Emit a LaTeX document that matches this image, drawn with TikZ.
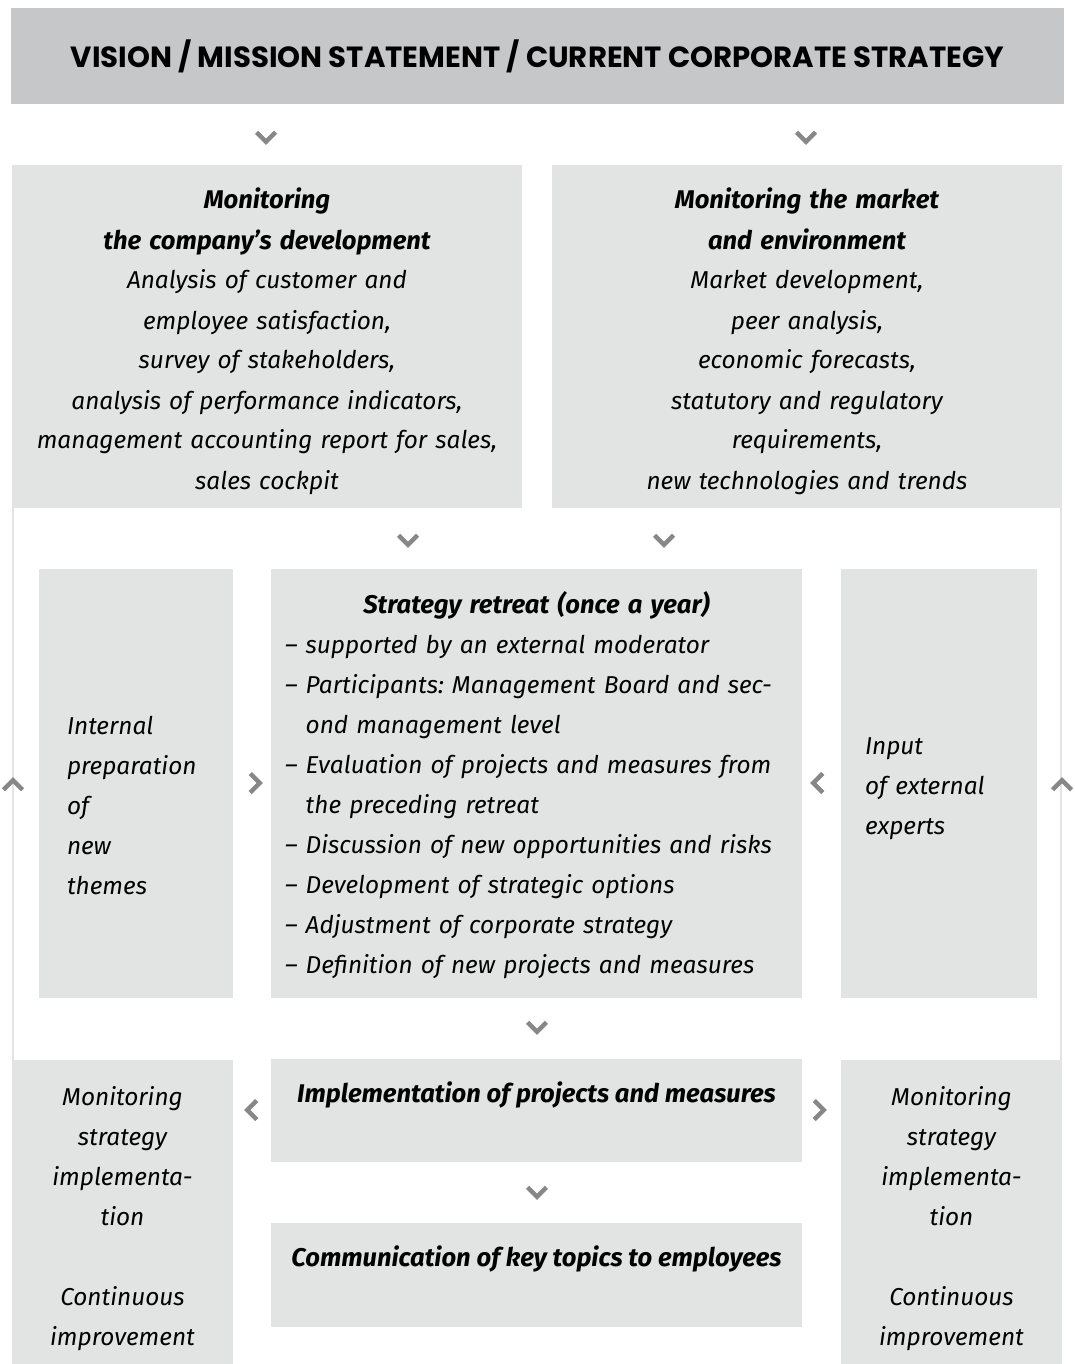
\documentclass[tikz,border=0pt]{standalone}
\usepackage{fontspec}
\setmainfont{Fira Sans}
\newfontfamily\headfont{Poppins}
\definecolor{boxgray}{HTML}{E2E3E3}
\definecolor{topgray}{HTML}{C6C7C8}
\definecolor{chevgray}{HTML}{878787}
\newcommand{\boxtitle}[1]{{\fontsize{25.6}{40}\selectfont\bfseries #1}}

\begin{document}
\begin{tikzpicture}[x=1pt,y=-1pt,
    box/.style={fill=boxgray, inner sep=0pt},
    txt/.style={font=\fontsize{24.4}{40}\selectfont\itshape\frenchspacing},
    chevline/.style={draw=chevgray, line width=4.5pt},
    loopline/.style={draw=boxgray, line width=2pt},
    pics/chev/.style={code={\draw[chevline,rotate=#1] (-9.5,-4.75) -- (0,4.75) -- (9.5,-4.75);}}]
    \useasboundingbox (0,0) rectangle (1075,1364);
    \node[box, fill=topgray, minimum width=1053pt, minimum height=96pt, font=\headfont\bfseries\fontsize{29.2}{30}\selectfont] (vision) at (537.5,56) {VISION / MISSION STATEMENT / CURRENT CORPORATE STRATEGY};
    \node[box, txt, align=center, text width=490pt, minimum width=510pt, text height=44pt, text depth=299pt] (company) at (267,336.5) {\boxtitle{Monitoring}\\ \boxtitle{the company's development}\\ Analysis of customer and\\ employee satisfaction,\\ survey of stakeholders,\\ analysis of performance indicators,\\ management accounting report for sales,\\ sales cockpit};
    \node[box, txt, align=center, text width=490pt, minimum width=510pt, text height=44pt, text depth=299pt] (market) at (807,336.5) {\boxtitle{Monitoring the market}\\ \boxtitle{and environment}\\ Market development,\\ peer analysis,\\ economic forecasts,\\ statutory and regulatory\\ requirements,\\ new technologies and trends};
    \node[box, txt, align=left, text width=138pt, minimum width=194pt, text height=165pt, text depth=264pt] (prep) at (136,783.5) {Internal\\ preparation\\ of\\ new\\ themes};
    \node[box, txt, align=left, text width=503pt, minimum width=531pt, text height=44pt, text depth=385pt] (retreat) at (536.5,783.5) {\makebox[\hsize]{\boxtitle{Strategy retreat (once a year)}}\\ -- supported by an external moderator\\ -- Participants: Management Board and sec-\\ \phantom{--\ }ond management level\\ -- Evaluation of projects and measures from\\ \phantom{--\ }the preceding retreat\\ -- Discussion of new opportunities and risks\\ -- Development of strategic options\\ -- Adjustment of corporate strategy\\ -- Definition of new projects and measures};
    \node[box, txt, align=left, text width=148pt, minimum width=196pt, text height=185pt, text depth=244pt] (experts) at (939,783.5) {Input\\ of external\\ experts};
    \node[box, txt, align=center, text width=200pt, minimum width=221pt, text height=45pt, text depth=259pt] (monleft) at (122.5,1212) {Monitoring\\ strategy\\ implementa-\\ tion\\[40pt] Continuous\\ improvement};
    \node[box, txt, align=center, text width=200pt, minimum width=221pt, text height=45pt, text depth=259pt] (monright) at (951.5,1212) {Monitoring\\ strategy\\ implementa-\\ tion\\[40pt] Continuous\\ improvement};
    \node[box, txt, minimum width=531pt, text height=43pt, text depth=60pt] (implement) at (536.5,1110.5) {\boxtitle{Implementation of projects and measures}};
    \node[box, txt, minimum width=531pt, text height=43pt, text depth=61pt] (communicate) at (536.5,1275) {\boxtitle{Communication of key topics to employees}};
    \draw[loopline] ([xshift=1pt]monleft.north west) -- ([xshift=1pt]company.south west);
    \draw[loopline] ([xshift=-1pt]monright.north east) -- ([xshift=-1pt]market.south east);
    \pic at (266,137) {chev=0};
    \pic at (806,137) {chev=0};
    \pic at (408,540) {chev=0};
    \pic at (664,540) {chev=0};
    \pic at (537,1027) {chev=0};
    \pic at (537,1192) {chev=0};
    \pic at (255,783) {chev=90};
    \pic at (818,783) {chev=-90};
    \pic at (252,1110) {chev=-90};
    \pic at (819,1110) {chev=90};
    \pic at (13,785) {chev=180};
    \pic at (1062,785) {chev=180};
\end{tikzpicture}
\end{document}
